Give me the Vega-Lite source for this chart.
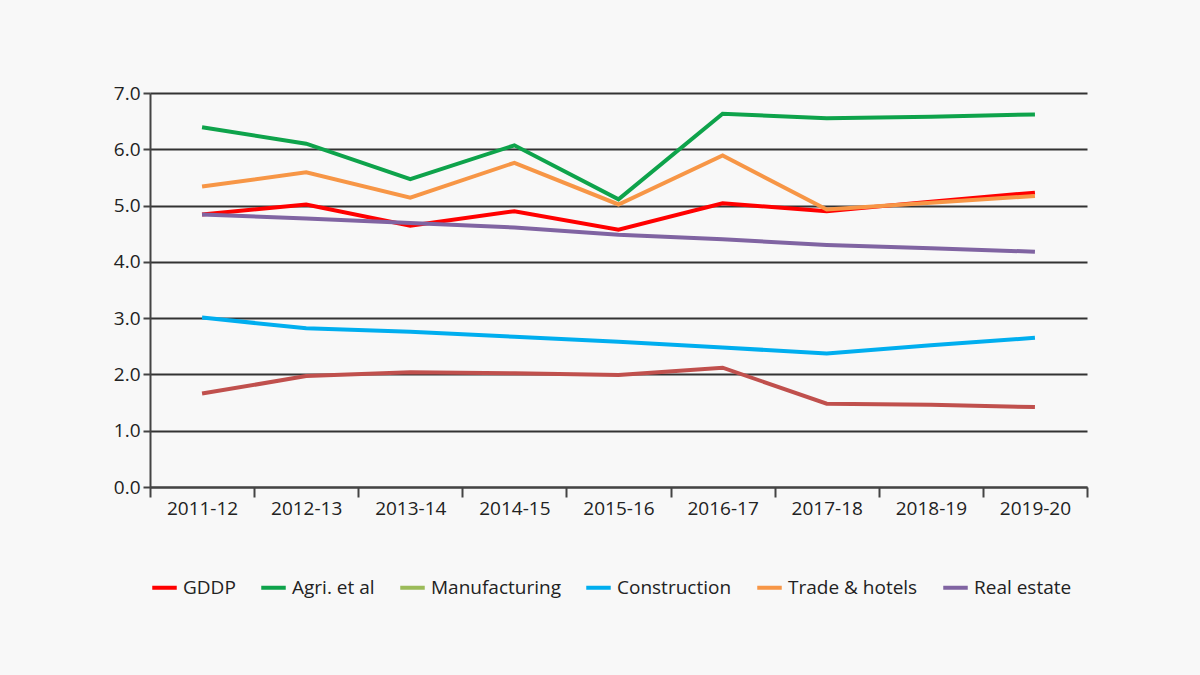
{
  "$schema": "https://vega.github.io/schema/vega-lite/v6.json",
  "width": 937,
  "height": 394,
  "autosize": {"type": "none"},
  "padding": {"left": 150, "top": 93, "right": 113, "bottom": 188},
  "background": "#f8f8f8",
  "config": {
    "view": {"stroke": null},
    "font": "Open Sans",
    "axis": {"labelFont": "Open Sans", "labelColor": "#222222", "labelFontSize": 19}
  },
  "data": {
    "values": [
      {"year": "2011-12", "series": "GDDP", "value": 4.84},
      {"year": "2012-13", "series": "GDDP", "value": 5.02},
      {"year": "2013-14", "series": "GDDP", "value": 4.64},
      {"year": "2014-15", "series": "GDDP", "value": 4.90},
      {"year": "2015-16", "series": "GDDP", "value": 4.57},
      {"year": "2016-17", "series": "GDDP", "value": 5.04},
      {"year": "2017-18", "series": "GDDP", "value": 4.90},
      {"year": "2018-19", "series": "GDDP", "value": 5.07},
      {"year": "2019-20", "series": "GDDP", "value": 5.23},
      {"year": "2011-12", "series": "Agri. et al", "value": 6.39},
      {"year": "2012-13", "series": "Agri. et al", "value": 6.10},
      {"year": "2013-14", "series": "Agri. et al", "value": 5.47},
      {"year": "2014-15", "series": "Agri. et al", "value": 6.07},
      {"year": "2015-16", "series": "Agri. et al", "value": 5.11},
      {"year": "2016-17", "series": "Agri. et al", "value": 6.63},
      {"year": "2017-18", "series": "Agri. et al", "value": 6.55},
      {"year": "2018-19", "series": "Agri. et al", "value": 6.58},
      {"year": "2019-20", "series": "Agri. et al", "value": 6.62},
      {"year": "2011-12", "series": "Construction", "value": 3.01},
      {"year": "2012-13", "series": "Construction", "value": 2.82},
      {"year": "2013-14", "series": "Construction", "value": 2.76},
      {"year": "2014-15", "series": "Construction", "value": 2.67},
      {"year": "2015-16", "series": "Construction", "value": 2.58},
      {"year": "2016-17", "series": "Construction", "value": 2.48},
      {"year": "2017-18", "series": "Construction", "value": 2.37},
      {"year": "2018-19", "series": "Construction", "value": 2.52},
      {"year": "2019-20", "series": "Construction", "value": 2.65},
      {"year": "2011-12", "series": "Trade & hotels", "value": 5.34},
      {"year": "2012-13", "series": "Trade & hotels", "value": 5.59},
      {"year": "2013-14", "series": "Trade & hotels", "value": 5.14},
      {"year": "2014-15", "series": "Trade & hotels", "value": 5.76},
      {"year": "2015-16", "series": "Trade & hotels", "value": 5.02},
      {"year": "2016-17", "series": "Trade & hotels", "value": 5.89},
      {"year": "2017-18", "series": "Trade & hotels", "value": 4.93},
      {"year": "2018-19", "series": "Trade & hotels", "value": 5.05},
      {"year": "2019-20", "series": "Trade & hotels", "value": 5.17},
      {"year": "2011-12", "series": "Real estate", "value": 4.84},
      {"year": "2012-13", "series": "Real estate", "value": 4.77},
      {"year": "2013-14", "series": "Real estate", "value": 4.69},
      {"year": "2014-15", "series": "Real estate", "value": 4.61},
      {"year": "2015-16", "series": "Real estate", "value": 4.48},
      {"year": "2016-17", "series": "Real estate", "value": 4.40},
      {"year": "2017-18", "series": "Real estate", "value": 4.30},
      {"year": "2018-19", "series": "Real estate", "value": 4.24},
      {"year": "2019-20", "series": "Real estate", "value": 4.18},
      {"year": "2011-12", "series": "Other", "value": 1.66},
      {"year": "2012-13", "series": "Other", "value": 1.97},
      {"year": "2013-14", "series": "Other", "value": 2.04},
      {"year": "2014-15", "series": "Other", "value": 2.02},
      {"year": "2015-16", "series": "Other", "value": 1.99},
      {"year": "2016-17", "series": "Other", "value": 2.12},
      {"year": "2017-18", "series": "Other", "value": 1.48},
      {"year": "2018-19", "series": "Other", "value": 1.46},
      {"year": "2019-20", "series": "Other", "value": 1.42}
    ]
  },
  "mark": {"type": "line", "strokeWidth": 4},
  "encoding": {
    "x": {
      "field": "year",
      "type": "ordinal",
      "scale": {"type": "band", "paddingInner": 0, "paddingOuter": 0},
      "axis": {
        "title": null,
        "labelAngle": 0,
        "tickBand": "extent",
        "domainColor": "#444444",
        "domainWidth": 2,
        "tickColor": "#444444",
        "tickWidth": 2,
        "tickSize": 10,
        "labelPadding": 2,
        "grid": false
      }
    },
    "y": {
      "field": "value",
      "type": "quantitative",
      "scale": {"domain": [0, 7]},
      "axis": {
        "title": null,
        "values": [0, 1, 2, 3, 4, 5, 6, 7],
        "format": ".1f",
        "grid": true,
        "gridColor": "#333333",
        "gridWidth": 2,
        "domainColor": "#444444",
        "domainWidth": 2,
        "tickColor": "#444444",
        "tickWidth": 2,
        "tickSize": 7,
        "labelPadding": 3
      }
    },
    "color": {
      "field": "series",
      "type": "nominal",
      "scale": {
        "domain": ["GDDP", "Agri. et al", "Manufacturing", "Construction", "Trade & hotels", "Real estate", "Other"],
        "range": ["#ff0000", "#0ea34b", "#9bbb59", "#00aeef", "#f79646", "#8064a2", "#c0504d"]
      },
      "legend": {
        "title": null,
        "values": ["GDDP", "Agri. et al", "Manufacturing", "Construction", "Trade & hotels", "Real estate"],
        "orient": "none",
        "legendX": 0,
        "legendY": 480,
        "direction": "horizontal",
        "symbolType": "stroke",
        "symbolSize": 600,
        "symbolStrokeWidth": 4,
        "labelFont": "Open Sans",
        "labelFontSize": 19,
        "labelColor": "#222222",
        "columnPadding": 17,
        "labelOffset": 4
      }
    }
  }
}
